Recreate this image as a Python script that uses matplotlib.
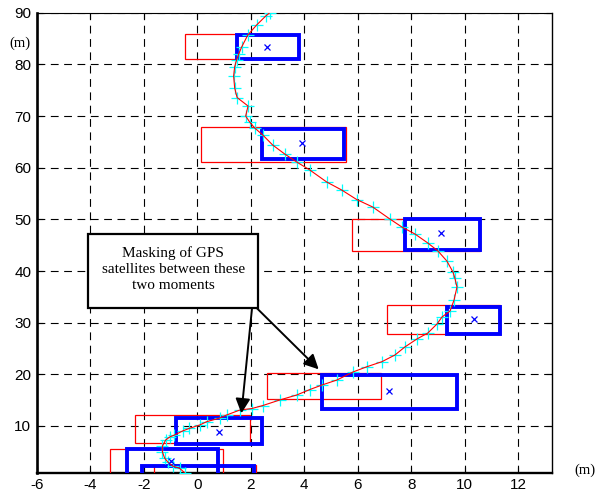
import matplotlib
matplotlib.use('Agg')
import matplotlib.pyplot as plt
from matplotlib.patches import Rectangle

plt.rcParams['axes.unicode_minus'] = False

# trajectory (m)
track_x = [-0.47, -0.66, -0.92, -1.11, -1.22, -1.30, -1.30, -1.18, -1.03, -0.85,
           -0.55, -0.29, 0.09, 0.35, 0.84, 1.10, 1.59, 2.04, 2.45, 3.08,
           3.72, 4.21, 4.66, 5.22, 5.82, 6.34, 6.90, 7.39, 7.76, 8.21,
           8.62, 8.96, 9.15, 9.45, 9.60, 9.71, 9.63, 9.56, 9.33, 9.00,
           8.62, 8.14, 7.65, 7.20, 6.56, 5.96, 5.40, 4.84, 4.21, 3.72,
           3.27, 2.82, 2.45, 2.15, 1.96, 1.81, 1.90, 1.49, 1.40, 1.36,
           1.40, 1.47, 1.55, 1.66, 1.89, 2.22, 2.56, 2.71]
track_y = [0.96, 1.81, 2.25, 3.08, 3.80, 4.96, 6.12, 7.29, 7.87, 8.25,
           9.03, 9.55, 10.19, 10.83, 11.54, 12.13, 13.09, 13.38, 13.96, 15.03,
           16.00, 17.06, 17.93, 18.90, 20.45, 21.47, 22.44, 23.74, 25.29, 26.84,
           28.00, 29.74, 31.10, 32.26, 34.39, 36.90, 38.64, 39.81, 41.94, 43.87,
           45.42, 47.16, 48.52, 50.07, 52.39, 53.84, 55.68, 57.23, 59.55, 61.10,
           62.65, 64.39, 66.33, 67.68, 68.84, 70.00, 71.94, 73.58, 75.42, 77.75,
           79.55, 80.84, 82.01, 83.36, 85.68, 87.62, 89.36, 90.00]

# predicted zones (red)
red_x0 = [-0.46, 0.13, 5.77, 7.11, 2.62, -2.31, -3.25, -1.60]
red_x1 = [3.79, 5.55, 10.57, 11.32, 6.86, 1.96, 0.96, 2.20]
red_y0 = [81.0, 61.1, 43.9, 27.8, 15.2, 6.65, -1.0, -2.0]
red_y1 = [85.8, 67.9, 50.1, 33.4, 20.2, 12.1, 5.5, 2.4]

# measured zones (blue)
blue_x0 = [1.50, 2.41, 7.77, 9.34, 4.67, -0.78, -2.62, -2.06]
blue_x1 = [3.79, 5.50, 10.57, 11.32, 9.70, 2.42, 0.77, 2.11]
blue_y0 = [81.0, 61.6, 44.0, 27.8, 13.2, 6.5, -1.0, -2.0]
blue_y1 = [85.7, 67.5, 50.0, 33.0, 19.9, 11.6, 5.5, 2.25]

# centres
centre_x = [2.62, 3.92, 9.13, 10.34, 7.17, 0.80, -0.97]
centre_y = [83.3, 64.7, 47.3, 30.65, 16.83, 8.9, 3.2]

xticks = [-6, -4, -2, 0, 2, 4, 6, 8, 10, 12]
yticks = [10, 20, 30, 40, 50, 60, 70, 80, 90]

note = 'Masking of GPS\nsatellites between these\ntwo moments'
note_box = (-4.07, 32.9, 2.27, 47.1)   # x0, y0, x1, y1

fig = plt.figure(figsize=(6.08, 4.97), dpi=100)
ax = fig.add_axes([0.0604, 0.0489, 0.847, 0.9255])

for x0, x1, y0, y1 in zip(red_x0, red_x1, red_y0, red_y1):
    ax.add_patch(Rectangle((x0, y0), x1 - x0, y1 - y0, fill=False,
                           edgecolor='red', lw=0.9, zorder=3))
for x0, x1, y0, y1 in zip(blue_x0, blue_x1, blue_y0, blue_y1):
    ax.add_patch(Rectangle((x0, y0), x1 - x0, y1 - y0, fill=False,
                           edgecolor='blue', lw=2.8, zorder=4))

ax.plot(track_x, track_y, ls='none', marker='+', ms=9, mew=0.9,
        color='cyan', zorder=5)
ax.plot(track_x, track_y, color='red', lw=0.8, zorder=6)
ax.plot(centre_x, centre_y, ls='none', marker='x', ms=4.5, mew=0.9,
        color='blue', zorder=7)

# note box and arrows
bx0, by0, bx1, by1 = note_box
ax.add_patch(Rectangle((bx0, by0), bx1 - bx0, by1 - by0, fc='white',
                       ec='black', lw=1.6, zorder=10))
ax.text((bx0 + bx1) / 2, 40.4, note, family='Liberation Serif', fontsize=11,
        ha='center', va='center', linespacing=1.3, zorder=11)
ax.annotate('', xy=(1.65, 12.45), xytext=(2.05, 32.9),
            arrowprops=dict(arrowstyle='-|>', color='black', lw=1.4,
                            mutation_scale=22, shrinkA=0, shrinkB=0), zorder=9)
ax.annotate('', xy=(4.54, 20.97), xytext=(2.21, 32.9),
            arrowprops=dict(arrowstyle='-|>', color='black', lw=1.4,
                            mutation_scale=22, shrinkA=0, shrinkB=0), zorder=9)

ax.set_xlim(-6, 13.25)
ax.set_ylim(0.96, 90)
ax.set_xticks(xticks)
ax.set_yticks(yticks)
ax.grid(True, color='black', lw=0.8, linestyle=(0, (7, 5)))
ax.tick_params(direction='in', top=True, right=True, length=4,
               labelsize=11, pad=4)
for lab in ax.get_xticklabels() + ax.get_yticklabels():
    lab.set_family('Liberation Sans')
ax.spines['left'].set_linewidth(1.9)
ax.spines['bottom'].set_linewidth(1.7)
ax.spines['top'].set_linewidth(0.8)
ax.spines['right'].set_linewidth(1.0)

fig.text(0.033, 0.913, '(m)', family='Liberation Serif', fontsize=10.5,
         ha='center', va='center')
fig.text(0.962, 0.054, '(m)', family='Liberation Serif', fontsize=10.5,
         ha='center', va='center')

fig.savefig('out.png', dpi=100)
